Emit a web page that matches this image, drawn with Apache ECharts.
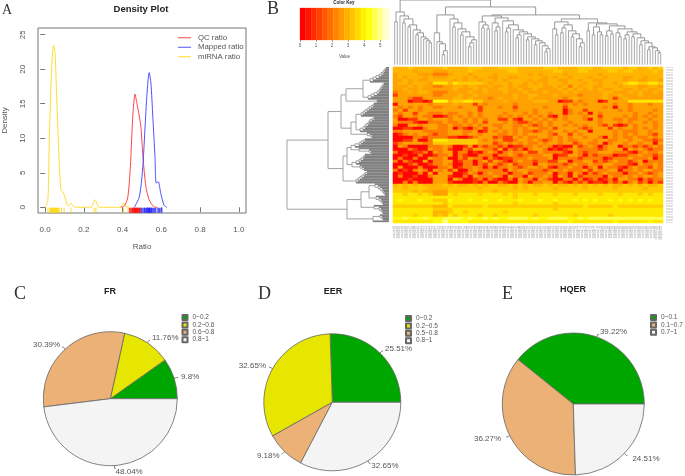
<!DOCTYPE html>
<html><head><meta charset="utf-8">
<style>html,body{margin:0;padding:0;background:#fff}#c{width:685px;height:476px}</style>
<script src="https://cdn.jsdelivr.net/npm/echarts@6/dist/echarts.min.js"></script>
</head><body><div id="c"></div>
<script>
// ---------- A: density curves [ratio, density]
const qcCurve=[[0.39,0],[0.41,0.2],[0.427,1.5],[0.44,5.9],[0.452,13],[0.464,16.4],[0.474,15],[0.485,13.4],[0.495,11.4],[0.505,7.3],[0.52,3],[0.537,1.1],[0.56,0.1],[0.58,0]];
const mappedCurve=[[0.46,0],[0.486,1.5],[0.503,5.4],[0.515,11.2],[0.526,16.5],[0.537,19.5],[0.546,18],[0.556,13],[0.567,7.3],[0.573,3.5],[0.584,3.7],[0.597,2],[0.614,0.3],[0.628,0]];
const mirnaCurve=[[0,0],[0.014,1],[0.022,10.7],[0.034,20.4],[0.043,23.4],[0.051,22.3],[0.06,15.5],[0.072,6.9],[0.082,2.5],[0.094,2.1],[0.111,0.6],[0.119,0.2],[0.133,0.6],[0.147,0.1],[0.162,0],[0.239,0],[0.247,0.6],[0.258,1.1],[0.268,0.5],[0.278,0],[0.384,0],[0.396,0.2],[0.406,0.6],[0.418,0.1],[0.435,0]];
const qcRug=[0.435,0.44,0.445,0.45,0.452,0.455,0.458,0.461,0.463,0.466,0.468,0.47,0.473,0.476,0.478,0.481,0.484,0.487,0.49,0.495];
const mappedRug=[0.495,0.5,0.505,0.51,0.513,0.516,0.52,0.523,0.526,0.529,0.531,0.534,0.536,0.538,0.54,0.542,0.545,0.548,0.55,0.555,0.56,0.565,0.57,0.578,0.585,0.59,0.597,0.603];
const mirnaRug=[0.015,0.025,0.028,0.031,0.034,0.037,0.04,0.043,0.046,0.049,0.052,0.055,0.058,0.061,0.064,0.068,0.072,0.085,0.098,0.133,0.253,0.262,0.405,0.428];
const xTicks=[0,0.2,0.4,0.6,0.8,1];
const yTicks=[0,5,10,15,20,25];

// ---------- B: colour key and heat map
const keyBreaks=[0,0.347,0.694,1.041,1.388,1.735,2.082,2.429,2.776,3.123,3.47,3.817,4.164,4.511,4.858,5.205,5.55];
const keyColors=['#FF0000','#FF1600','#FF2C00','#FF4200','#FF5800','#FF6E00','#FF8400','#FF9A00','#FFB000','#FFC600','#FFDC00','#FFF200','#FFFF10','#FFFF50','#FFFF90','#FFFFD0'];
const keyTicks=[0,1,2,3,4,5];
const heatLevels=[0.1,1.0,2.1,2.7,3.05,3.4,3.9,4.3,4.8,5.2];
const heatRows=[
"4445444444 5444455544 4555544444 5554444555 4455554554 4545",
"4444344433 3444454444 4445544444 4455444554 4445545544 4454",
"3444433322 2344434444 3444444343 4444344444 4344444444 4444",
"3434443433 3444343443 3443344444 3434434443 4434443344 3444",
"3343433444 4434344344 3434444343 3443344344 3344443443 3443",
"3443444366 6465555543 4443443434 3444344434 4344345665 5665",
"3334343322 3344344334 3343433444 3343424344 3344434443 3443",
"3343343333 3343334343 3443343343 3334343434 3433443343 4334",
"2334344322 2333343343 3343334333 4333434333 3344333434 3343",
"1333333322 3334334333 3333433443 3343333233 3343343334 3333",
"3332113333 3344343332 3433433433 3333234333 3343134333 3333",
"3330110177 7455665533 3343333344 4330113233 3013333666 6666",
"0333333233 3343331323 3333233333 3333232323 3333233233 3233",
"3232323322 3332333133 3233133333 2333133333 3323033233 3333",
"2313323333 3333333133 3333233323 3333023313 3333323233 3323",
"3233133222 3223323233 3323332323 3233023230 3233333323 3233",
"2133232200 1232323233 3232323232 3103233323 3133332323 2323",
"3001133233 3233232323 3113103323 2323233320 3233223223 3233",
"3222100222 3223232313 3323211232 3233323333 3233323233 2323",
"2003323332 2322323233 2233223212 3233232323 3213101323 3323",
"0011002332 2302102313 3233232332 2313333212 3331323323 2323",
"2233332222 2333223013 2323232212 3233232330 3333232223 3233",
"0123233212 2333233233 3223232333 3213313233 3333232323 3213",
"0000221222 2110012333 1211323223 3232323323 3203232232 2323",
"0011300266 6555555323 2311233232 1232322333 2332233233 2212",
"1233332255 5555555333 1232323223 2332331232 2302332332 3303",
"0320000222 3200130212 2120112232 3201003123 2023302212 1232",
"0002100322 3100213322 1302120233 2010123222 2123330323 2122",
"2000112032 3302201023 2023223113 2222103212 2333222102 3223",
"0010020012 2302100222 0223212222 3301133202 1222011223 2212",
"0200200322 3002132202 1011222322 2302222122 2201222322 2302",
"2021003022 3301220231 3210232212 2113302233 1212322123 0222",
"0001200122 3200220213 2123122203 3222123223 2233222103 2232",
"0300020002 2301223202 0223212332 3102232202 3032210232 2132",
"2010232032 3130023222 2203233222 1232322231 3223302232 3322",
"0100020303 3300132023 2220223122 2302203202 1232220223 2123",
"0200100233 3100203222 3203220322 3203203122 2203223232 3323",
"0001000033 3032001202 1002032203 2100220201 2012033220 2122",
"0020200033 3100001020 0210032022 3302102120 1102120231 2021",
"4545454444 5454454545 5445454544 5454454545 4545445454 5445",
"5545555444 4555555455 5555454555 5545555545 5555455555 4555",
"5555454433 3555555555 4555555555 5555555555 5555555555 5555",
"6656656533 3656666566 6656566656 6656665666 6566656665 6566",
"6666666666 6666666666 6666566666 6666666666 6666666666 6666",
"6766676655 5766676676 6766676667 6676667676 7667676767 6766",
"6666666666 5666666666 6666566666 6656666666 6666666666 6666",
"5555555544 4655555565 5555555555 5555555565 5555655555 5555",
"6666666655 5566666666 6666666666 6656666666 6666666666 6666",
"6666666644 4566566666 6656666666 6666666666 6666666666 6666",
"6666566645 4656666566 5666666656 6666665666 6665666666 6666",
"7787778777 8888787787 8778888787 7888877878 8888888888 8888",
"6666666677 9777766666 6666666666 6666676666 6666766666 6766"
];
// dendrogram merges: [height, childA, childB]; 0 is a leaf; stair chains merges, comb/combUp chain single leaves
const stair=(...e)=>e.length===1?e[0]:[e[0][0],e[0][1],stair(...e.slice(1))];
const comb=hs=>hs.length===1?[hs[0],0,0]:[hs[0],0,comb(hs.slice(1))];
const combUp=hs=>hs.length===1?[hs[0],0,0]:[hs[0],combUp(hs.slice(1)),0];
const topL=stair([53,[43,0,0]],[49,0],[46,[42,0,0]],[40,[38,0,0]],[35,0],[32,[30,0,0]],[28,0],[26,0],[24,0],[22,0,0]);
const topR1a=stair([32,0],[23,0],[21,0],[14,[10,0,0],0]);
const topR1b=stair([46,0],[42,[38,0,0]],[36,0],[33,[30,0,0]],[28,0],[25,[22,[18,0,0],0],0]);
const topR2a=[49,stair([43,0],[40,[37,0,0],[36,0,0]]),stair([47,stair([42,0],[38,[34,0,0],0])],[44,0],[40,[37,[33,0,0],0]],[35,0],[33,[30,[27,0,0],0]],[31,0],[28,[25,0,0]],[26,0],[24,[20,0,0]],[22,0],[19,0],[16,[13,0,0],0])];
const topR2bU=[43,stair([36,0],[30,0,0]),stair([40,[37,[32,0,0],0]],[34,0],[31,[28,0,0]],[26,0],[22,[18,0,0],0])];
const topR2bV=stair([42,[34,0,0]],[41,stair([38,[30,0,0]],[33,0],[30,0,0])],[39,[34,[29,0,0],[31,0,0]]],[36,stair([32,0],[28,0,0])],[33,[30,[26,0,0],0]],[31,[28,0,0]],[27,0],[24,[20,0,0]],[22,0],[18,[15,0,0]],[17,0],[14,0],[12,0,0]);
const topTree=[65,topL,[58,[50,topR1a,topR1b],[50,topR2a,[46,topR2bU,topR2bV]]]];
const sideA=[43,[26,combUp([19,16,13,10,8,6,5,4,3]),combUp([21,18,15,12,10,9,8,7,6,5])],comb([12])];
const sideB=[38,[33,combUp([28,26,24,22,20,18,16,15]),combUp([29,26,24,23,21,20,19,17,15])],comb([22,19,17])];
const sideC=[46,[42,[38,combUp([34,30,28,26,24]),comb([30,20,18])],[37,combUp([33,30,28,26,25,24]),comb([29,27,25])]],combUp([33,31,29,27,25,24,22])];
const sideD=[42,[28,[20,comb([14,11,9,7,6,5,4]),comb([13,10,8,7,6])],comb([15,10,8,7,6])],[16,comb([9,7,6]),0]];
const sideTree=[102,[61,[48,sideA,sideB],sideC],sideD];

// ---------- C, D, E: pies
const frNames=['0~0.2','0.2~0.6','0.6~0.8','0.8~1'];
const frValues=[9.8,11.76,30.39,48.04];
const eerNames=['0~0.2','0.2~0.5','0.5~0.8','0.8~1'];
const eerValues=[25.51,32.65,9.18,32.65];
const hqerNames=['0~0.1','0.1~0.7','0.7~1'];
const hqerValues=[39.22,36.27,24.51];
const terrain4=['#00A600','#E6E600','#ECB176','#F4F4F4'];
const terrain3=['#00A600','#ECB176','#F4F4F4'];
// label nudges, layout only
const frNudge=[[-2,-1],[-3,-3],[3,-2],[-5,3]];
const eerNudge=[[-3,-2],[2,-1],[3,2],[-4,2]];
const hqerNudge=[[-4,-2],[0,2],[0,3]];

// ---------- helpers
function segments(tree){
  let n=0;const out=[];
  (function walk(t){
    if(t===0)return{p:n++,h:0,leaf:1};
    const a=walk(t[1]),b=walk(t[2]),h=t[0];
    out.push([a.p,h,b.p,h,0],[a.p,a.h,a.p,h,a.leaf],[b.p,b.h,b.p,h,b.leaf]);
    return{p:(a.p+b.p)/2,h,leaf:0};
  })(tree);
  return{segs:out,count:n};
}
const top_=segments(topTree), side=segments(sideTree);
const segItem=(lw,leafLw,col,leafCol,swap)=>(params,api)=>{
  const leaf=api.value(4);
  const a=swap?[api.value(1),api.value(0)]:[api.value(0),api.value(1)];
  const b=swap?[api.value(3),api.value(2)]:[api.value(2),api.value(3)];
  const p=api.coord(a),q=api.coord(b);
  return{type:'line',shape:{x1:p[0],y1:p[1],x2:q[0],y2:q[1]},style:{stroke:leaf?leafCol:col,lineWidth:leaf?leafLw:lw}};
};
const heatData=[];
heatRows.forEach((row,r)=>{row.replace(/ /g,'').split('').forEach((d,c)=>heatData.push([c,r,heatLevels[+d]]));});
const nCols=heatRows[0].replace(/ /g,'').length;
const colLabels=Array.from({length:102},(_,i)=>'sample'+String(i+1).padStart(2,'0'));
const rowLabels=Array.from({length:100},(_,i)=>'miR'+String(i+1).padStart(3,'0'));
const keyBands=keyColors.map((c,i)=>[keyBreaks[i],keyBreaks[i+1]]);
const axisGray='#777',textGray='#555';
const letter=(t,l,tp,s)=>({text:t,left:l,top:tp,padding:0,textStyle:{fontFamily:'Liberation Serif',fontWeight:'normal',fontSize:s,color:'#333'}});
const head=(t,cx,tp,s)=>({text:t,left:cx,top:tp,padding:0,textAlign:'center',textStyle:{fontFamily:'Liberation Sans',fontWeight:'bold',fontSize:s,color:'#222'}});
const pie=(name,names,vals,cols,cx,cy,r,nudge)=>({type:'pie',name,center:[cx,cy],radius:[0,r],startAngle:0,clockwise:false,avoidLabelOverlap:false,
  data:names.map((n,i)=>({name:n,value:vals[i],itemStyle:{color:cols[i]}})),
  itemStyle:{borderColor:'#666',borderWidth:0.8},
  label:{formatter:'{c}%',fontSize:8,color:'#555',fontFamily:'Liberation Sans'},
  labelLine:{length:3,length2:1,lineStyle:{color:'#666',width:0.8}},
  labelLayout:p=>({dx:nudge[p.dataIndex][0],dy:nudge[p.dataIndex][1]}),
  emphasis:{disabled:true}});
const pieLegend=(names,l,tp)=>({data:names,left:l,top:tp,padding:0,orient:'vertical',itemWidth:5,itemHeight:5,itemGap:0.4,icon:'rect',selectedMode:false,
  textStyle:{fontSize:6.5,color:'#555',lineHeight:7,fontFamily:'Liberation Sans',padding:[0,0,0,0]}});
const rug=(name,vals,color)=>({type:'scatter',name,xAxisIndex:0,yAxisIndex:0,data:vals.map(v=>[v,-0.42]),symbol:'rect',symbolSize:[1,5],itemStyle:{color},silent:true});

const option={
  animation:false,
  backgroundColor:'#fff',
  textStyle:{fontFamily:'Liberation Sans'},
  title:[letter('A',2,3,14),letter('B',267,0,18),letter('C',14,285,18),letter('D',258,285,18),letter('E',502,285,18),
    head('Density Plot',141,4,9.5),head('FR',110,287,9),head('EER',333,287,9),head('HQER',573,285,9),head('Color Key',344,0,4.5)],
  grid:[
    {left:36,top:28,width:210,height:185,show:true,borderColor:axisGray,borderWidth:1,backgroundColor:'#fff'},
    {left:300,top:8,width:89,height:32},
    {left:394.7,top:0,width:266,height:64.7},
    {left:287,top:67.8,width:102,height:153.5},
    {left:393,top:67,width:270,height:156}
  ],
  xAxis:[
    {gridIndex:0,type:'value',min:-0.037,max:1.037,splitLine:{show:false},axisLine:{show:false},
      axisTick:{show:true,length:5,customValues:xTicks,lineStyle:{color:axisGray}},
      axisLabel:{customValues:xTicks,fontSize:8,color:textGray,margin:13,formatter:v=>v.toFixed(1)},
      name:'Ratio',nameLocation:'middle',nameGap:30,nameTextStyle:{fontSize:8,color:textGray}},
    {gridIndex:1,type:'value',min:0,max:5.55,splitLine:{show:false},axisLine:{show:false},
      axisTick:{show:true,length:2,customValues:keyTicks,lineStyle:{color:'#666',width:0.6}},
      axisLabel:{customValues:keyTicks,fontSize:4.5,color:textGray,margin:3},
      name:'Value',nameLocation:'middle',nameGap:14,nameTextStyle:{fontSize:4.5,color:textGray}},
    {gridIndex:2,type:'value',min:0,max:top_.count-1,show:false},
    {gridIndex:3,type:'value',min:0,max:102,inverse:true,show:false},
    {gridIndex:4,type:'category',data:Array.from({length:nCols},(_,i)=>i),show:false},
    {gridIndex:4,type:'category',data:colLabels,position:'bottom',axisLine:{show:false},axisTick:{show:false},
      axisLabel:{interval:0,rotate:90,fontSize:2.8,color:'#aaa',margin:3}}
  ],
  yAxis:[
    {gridIndex:0,type:'value',min:-0.83,max:25.97,splitLine:{show:false},axisLine:{show:false},
      axisTick:{show:true,length:5,customValues:yTicks,lineStyle:{color:axisGray}},
      axisLabel:{customValues:yTicks,fontSize:8,color:textGray,rotate:90,margin:11},
      name:'Density',nameLocation:'middle',nameGap:29,nameTextStyle:{fontSize:8,color:textGray}},
    {gridIndex:1,type:'value',min:0,max:1,show:false},
    {gridIndex:2,type:'value',min:0,max:65,show:false},
    {gridIndex:3,type:'value',min:0,max:side.count-1,inverse:true,show:false},
    {gridIndex:4,type:'category',data:heatRows.map((_,i)=>i),inverse:true,show:false},
    {gridIndex:4,type:'category',data:rowLabels,inverse:true,position:'right',axisLine:{show:false},axisTick:{show:false},
      axisLabel:{interval:0,fontSize:2,color:'#aaa',margin:3}}
  ],
  legend:[
    {data:['QC ratio','Mapped ratio','miRNA ratio'],left:178,top:33,padding:0,orient:'vertical',icon:'rect',itemWidth:13,itemHeight:1,itemGap:0,selectedMode:false,
      textStyle:{fontSize:7.8,color:textGray,lineHeight:9.5,padding:[0,0,0,2]}},
    pieLegend(frNames,181.5,314),
    pieLegend(eerNames,405,315),
    pieLegend(hqerNames,650,314)
  ],
  visualMap:[{show:false,type:'continuous',min:0,max:5.55,seriesIndex:8,inRange:{color:keyColors}}],
  series:[
    {type:'line',name:'miRNA ratio',xAxisIndex:0,yAxisIndex:0,data:mirnaCurve,showSymbol:false,smooth:0.25,lineStyle:{color:'#FFDD33',width:1},itemStyle:{color:'#FFDD33'}},
    {type:'line',name:'QC ratio',xAxisIndex:0,yAxisIndex:0,data:qcCurve,showSymbol:false,smooth:0.25,lineStyle:{color:'#FF4444',width:1},itemStyle:{color:'#FF4444'}},
    {type:'line',name:'Mapped ratio',xAxisIndex:0,yAxisIndex:0,data:mappedCurve,showSymbol:false,smooth:0.25,lineStyle:{color:'#5050FF',width:1},itemStyle:{color:'#5050FF'}},
    rug('miRNA rug',mirnaRug,'#FFD500'),
    rug('QC rug',qcRug,'#FF0000'),
    rug('Mapped rug',mappedRug,'#2020FF'),
    {type:'custom',name:'key',xAxisIndex:1,yAxisIndex:1,data:keyBands,silent:true,
      renderItem:(p,api)=>{const a=api.coord([api.value(0),1]),b=api.coord([api.value(1),0]);
        return{type:'rect',shape:{x:a[0],y:a[1],width:b[0]-a[0],height:b[1]-a[1]},style:{fill:keyColors[p.dataIndex],stroke:keyColors[p.dataIndex],lineWidth:0.3}};}},
    {type:'custom',name:'column tree',xAxisIndex:2,yAxisIndex:2,data:top_.segs,silent:true,clip:false,renderItem:segItem(0.9,0.9,'#8c8c8c','#a0a0a0',false)},
    {type:'heatmap',name:'heat',xAxisIndex:4,yAxisIndex:4,data:heatData,silent:true,progressive:0},
    {type:'custom',name:'row tree',xAxisIndex:3,yAxisIndex:3,data:side.segs,silent:true,clip:false,renderItem:segItem(0.9,1.7,'#999','#808080',true)},
    pie('FR',frNames,frValues,terrain4,110.3,398.7,67,frNudge),
    pie('EER',eerNames,eerValues,terrain4,332.3,402.3,68.5,eerNudge),
    pie('HQER',hqerNames,hqerValues,terrain3,573.3,404,71,hqerNudge)
  ]
};
const chart=echarts.init(document.getElementById('c'),null,{renderer:'canvas'});
chart.setOption(option);
</script></body></html>
